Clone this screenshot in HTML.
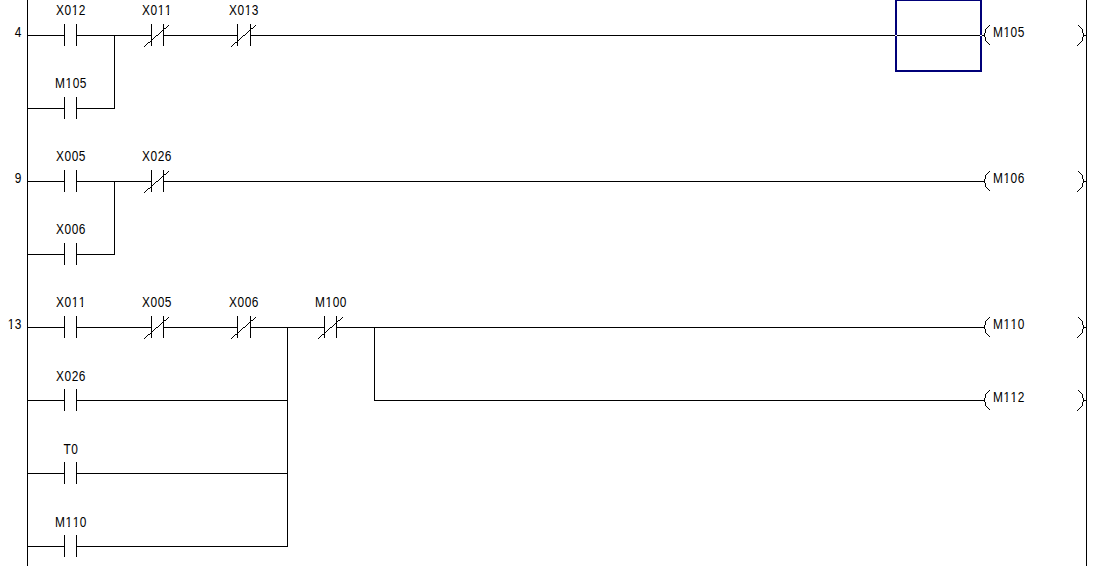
<!DOCTYPE html>
<html><head><meta charset="utf-8"><style>
html,body{margin:0;padding:0;background:#fff;width:1093px;height:566px;overflow:hidden}
#w{position:relative;width:1093px;height:566px;overflow:hidden}
svg{position:absolute;left:0;top:0}
.o{display:inline-block;clip-path:polygon(-3px -3px,11px -3px,11px 11.7px,4.9px 11.7px,4.9px 16px,3.3px 16px,3.3px 11.7px,-3px 11.7px)}
.t{position:absolute;font-family:"Liberation Sans",sans-serif;font-size:14px;line-height:16px;color:#000;white-space:nowrap;letter-spacing:0.6px;transform:scaleX(0.85);}
</style></head><body><div id="w">
<svg width="1093" height="566" viewBox="0 0 1093 566" shape-rendering="crispEdges"><g fill="#000">
<rect x="27" y="0" width="1" height="566"/><rect x="1086" y="0" width="1" height="566"/><rect x="27" y="35" width="38" height="1"/><rect x="64" y="24" width="1" height="22"/><rect x="76" y="24" width="1" height="22"/><rect x="76" y="35" width="76" height="1"/><rect x="151" y="24" width="1" height="22"/><rect x="163" y="24" width="1" height="22"/><rect x="144" y="46" width="1" height="1"/><rect x="145" y="45" width="1" height="1"/><rect x="146" y="44" width="1" height="1"/><rect x="147" y="43" width="1" height="1"/><rect x="148" y="42" width="1" height="1"/><rect x="149" y="42" width="1" height="1"/><rect x="150" y="41" width="1" height="1"/><rect x="151" y="40" width="1" height="1"/><rect x="152" y="39" width="1" height="1"/><rect x="153" y="38" width="1" height="1"/><rect x="154" y="37" width="1" height="1"/><rect x="155" y="36" width="1" height="1"/><rect x="156" y="35" width="1" height="1"/><rect x="157" y="35" width="1" height="1"/><rect x="158" y="34" width="1" height="1"/><rect x="159" y="33" width="1" height="1"/><rect x="160" y="32" width="1" height="1"/><rect x="161" y="31" width="1" height="1"/><rect x="162" y="30" width="1" height="1"/><rect x="163" y="29" width="1" height="1"/><rect x="164" y="28" width="1" height="1"/><rect x="165" y="28" width="1" height="1"/><rect x="166" y="27" width="1" height="1"/><rect x="167" y="26" width="1" height="1"/><rect x="168" y="25" width="1" height="1"/><rect x="163" y="35" width="75" height="1"/><rect x="237" y="24" width="1" height="22"/><rect x="250" y="24" width="1" height="22"/><rect x="231" y="46" width="1" height="1"/><rect x="232" y="45" width="1" height="1"/><rect x="233" y="44" width="1" height="1"/><rect x="234" y="43" width="1" height="1"/><rect x="235" y="42" width="1" height="1"/><rect x="236" y="42" width="1" height="1"/><rect x="237" y="41" width="1" height="1"/><rect x="238" y="40" width="1" height="1"/><rect x="239" y="39" width="1" height="1"/><rect x="240" y="38" width="1" height="1"/><rect x="241" y="37" width="1" height="1"/><rect x="242" y="36" width="1" height="1"/><rect x="243" y="35" width="1" height="1"/><rect x="244" y="35" width="1" height="1"/><rect x="245" y="34" width="1" height="1"/><rect x="246" y="33" width="1" height="1"/><rect x="247" y="32" width="1" height="1"/><rect x="248" y="31" width="1" height="1"/><rect x="249" y="30" width="1" height="1"/><rect x="250" y="29" width="1" height="1"/><rect x="251" y="28" width="1" height="1"/><rect x="252" y="28" width="1" height="1"/><rect x="253" y="27" width="1" height="1"/><rect x="254" y="26" width="1" height="1"/><rect x="255" y="25" width="1" height="1"/><rect x="250" y="35" width="735" height="1"/><rect x="989" y="25" width="1" height="1"/><rect x="988" y="26" width="1" height="1"/><rect x="987" y="27" width="1" height="1"/><rect x="986" y="28" width="1" height="1"/><rect x="985" y="29" width="1" height="4"/><rect x="984" y="33" width="1" height="4"/><rect x="985" y="37" width="1" height="4"/><rect x="986" y="41" width="1" height="1"/><rect x="987" y="42" width="1" height="1"/><rect x="988" y="43" width="1" height="1"/><rect x="989" y="44" width="1" height="1"/><rect x="1078" y="25" width="1" height="1"/><rect x="1079" y="26" width="1" height="1"/><rect x="1080" y="27" width="1" height="1"/><rect x="1081" y="28" width="1" height="1"/><rect x="1082" y="29" width="1" height="4"/><rect x="1083" y="33" width="1" height="4"/><rect x="1082" y="37" width="1" height="4"/><rect x="1081" y="41" width="1" height="1"/><rect x="1080" y="42" width="1" height="1"/><rect x="1079" y="43" width="1" height="1"/><rect x="1078" y="44" width="1" height="1"/><rect x="1077" y="45" width="1" height="1"/><rect x="1083" y="35" width="4" height="1"/><rect x="27" y="108" width="38" height="1"/><rect x="64" y="97" width="1" height="22"/><rect x="76" y="97" width="1" height="22"/><rect x="76" y="108" width="39" height="1"/><rect x="114" y="35" width="1" height="74"/><rect x="27" y="181" width="38" height="1"/><rect x="64" y="170" width="1" height="22"/><rect x="76" y="170" width="1" height="22"/><rect x="76" y="181" width="76" height="1"/><rect x="151" y="170" width="1" height="22"/><rect x="163" y="170" width="1" height="22"/><rect x="144" y="192" width="1" height="1"/><rect x="145" y="191" width="1" height="1"/><rect x="146" y="190" width="1" height="1"/><rect x="147" y="189" width="1" height="1"/><rect x="148" y="188" width="1" height="1"/><rect x="149" y="188" width="1" height="1"/><rect x="150" y="187" width="1" height="1"/><rect x="151" y="186" width="1" height="1"/><rect x="152" y="185" width="1" height="1"/><rect x="153" y="184" width="1" height="1"/><rect x="154" y="183" width="1" height="1"/><rect x="155" y="182" width="1" height="1"/><rect x="156" y="181" width="1" height="1"/><rect x="157" y="181" width="1" height="1"/><rect x="158" y="180" width="1" height="1"/><rect x="159" y="179" width="1" height="1"/><rect x="160" y="178" width="1" height="1"/><rect x="161" y="177" width="1" height="1"/><rect x="162" y="176" width="1" height="1"/><rect x="163" y="175" width="1" height="1"/><rect x="164" y="174" width="1" height="1"/><rect x="165" y="174" width="1" height="1"/><rect x="166" y="173" width="1" height="1"/><rect x="167" y="172" width="1" height="1"/><rect x="168" y="171" width="1" height="1"/><rect x="163" y="181" width="822" height="1"/><rect x="989" y="171" width="1" height="1"/><rect x="988" y="172" width="1" height="1"/><rect x="987" y="173" width="1" height="1"/><rect x="986" y="174" width="1" height="1"/><rect x="985" y="175" width="1" height="4"/><rect x="984" y="179" width="1" height="4"/><rect x="985" y="183" width="1" height="4"/><rect x="986" y="187" width="1" height="1"/><rect x="987" y="188" width="1" height="1"/><rect x="988" y="189" width="1" height="1"/><rect x="989" y="190" width="1" height="1"/><rect x="1078" y="171" width="1" height="1"/><rect x="1079" y="172" width="1" height="1"/><rect x="1080" y="173" width="1" height="1"/><rect x="1081" y="174" width="1" height="1"/><rect x="1082" y="175" width="1" height="4"/><rect x="1083" y="179" width="1" height="4"/><rect x="1082" y="183" width="1" height="4"/><rect x="1081" y="187" width="1" height="1"/><rect x="1080" y="188" width="1" height="1"/><rect x="1079" y="189" width="1" height="1"/><rect x="1078" y="190" width="1" height="1"/><rect x="1077" y="191" width="1" height="1"/><rect x="1083" y="181" width="4" height="1"/><rect x="27" y="254" width="38" height="1"/><rect x="64" y="243" width="1" height="22"/><rect x="76" y="243" width="1" height="22"/><rect x="76" y="254" width="39" height="1"/><rect x="114" y="181" width="1" height="74"/><rect x="27" y="327" width="38" height="1"/><rect x="64" y="316" width="1" height="22"/><rect x="76" y="316" width="1" height="22"/><rect x="76" y="327" width="76" height="1"/><rect x="151" y="316" width="1" height="22"/><rect x="163" y="316" width="1" height="22"/><rect x="144" y="338" width="1" height="1"/><rect x="145" y="337" width="1" height="1"/><rect x="146" y="336" width="1" height="1"/><rect x="147" y="335" width="1" height="1"/><rect x="148" y="334" width="1" height="1"/><rect x="149" y="334" width="1" height="1"/><rect x="150" y="333" width="1" height="1"/><rect x="151" y="332" width="1" height="1"/><rect x="152" y="331" width="1" height="1"/><rect x="153" y="330" width="1" height="1"/><rect x="154" y="329" width="1" height="1"/><rect x="155" y="328" width="1" height="1"/><rect x="156" y="327" width="1" height="1"/><rect x="157" y="327" width="1" height="1"/><rect x="158" y="326" width="1" height="1"/><rect x="159" y="325" width="1" height="1"/><rect x="160" y="324" width="1" height="1"/><rect x="161" y="323" width="1" height="1"/><rect x="162" y="322" width="1" height="1"/><rect x="163" y="321" width="1" height="1"/><rect x="164" y="320" width="1" height="1"/><rect x="165" y="320" width="1" height="1"/><rect x="166" y="319" width="1" height="1"/><rect x="167" y="318" width="1" height="1"/><rect x="168" y="317" width="1" height="1"/><rect x="163" y="327" width="75" height="1"/><rect x="237" y="316" width="1" height="22"/><rect x="250" y="316" width="1" height="22"/><rect x="231" y="338" width="1" height="1"/><rect x="232" y="337" width="1" height="1"/><rect x="233" y="336" width="1" height="1"/><rect x="234" y="335" width="1" height="1"/><rect x="235" y="334" width="1" height="1"/><rect x="236" y="334" width="1" height="1"/><rect x="237" y="333" width="1" height="1"/><rect x="238" y="332" width="1" height="1"/><rect x="239" y="331" width="1" height="1"/><rect x="240" y="330" width="1" height="1"/><rect x="241" y="329" width="1" height="1"/><rect x="242" y="328" width="1" height="1"/><rect x="243" y="327" width="1" height="1"/><rect x="244" y="327" width="1" height="1"/><rect x="245" y="326" width="1" height="1"/><rect x="246" y="325" width="1" height="1"/><rect x="247" y="324" width="1" height="1"/><rect x="248" y="323" width="1" height="1"/><rect x="249" y="322" width="1" height="1"/><rect x="250" y="321" width="1" height="1"/><rect x="251" y="320" width="1" height="1"/><rect x="252" y="320" width="1" height="1"/><rect x="253" y="319" width="1" height="1"/><rect x="254" y="318" width="1" height="1"/><rect x="255" y="317" width="1" height="1"/><rect x="250" y="327" width="75" height="1"/><rect x="324" y="316" width="1" height="22"/><rect x="336" y="316" width="1" height="22"/><rect x="318" y="338" width="1" height="1"/><rect x="319" y="337" width="1" height="1"/><rect x="320" y="336" width="1" height="1"/><rect x="321" y="335" width="1" height="1"/><rect x="322" y="334" width="1" height="1"/><rect x="323" y="334" width="1" height="1"/><rect x="324" y="333" width="1" height="1"/><rect x="325" y="332" width="1" height="1"/><rect x="326" y="331" width="1" height="1"/><rect x="327" y="330" width="1" height="1"/><rect x="328" y="329" width="1" height="1"/><rect x="329" y="328" width="1" height="1"/><rect x="330" y="327" width="1" height="1"/><rect x="331" y="327" width="1" height="1"/><rect x="332" y="326" width="1" height="1"/><rect x="333" y="325" width="1" height="1"/><rect x="334" y="324" width="1" height="1"/><rect x="335" y="323" width="1" height="1"/><rect x="336" y="322" width="1" height="1"/><rect x="337" y="321" width="1" height="1"/><rect x="338" y="320" width="1" height="1"/><rect x="339" y="320" width="1" height="1"/><rect x="340" y="319" width="1" height="1"/><rect x="341" y="318" width="1" height="1"/><rect x="342" y="317" width="1" height="1"/><rect x="336" y="327" width="649" height="1"/><rect x="989" y="317" width="1" height="1"/><rect x="988" y="318" width="1" height="1"/><rect x="987" y="319" width="1" height="1"/><rect x="986" y="320" width="1" height="1"/><rect x="985" y="321" width="1" height="4"/><rect x="984" y="325" width="1" height="4"/><rect x="985" y="329" width="1" height="4"/><rect x="986" y="333" width="1" height="1"/><rect x="987" y="334" width="1" height="1"/><rect x="988" y="335" width="1" height="1"/><rect x="989" y="336" width="1" height="1"/><rect x="1078" y="317" width="1" height="1"/><rect x="1079" y="318" width="1" height="1"/><rect x="1080" y="319" width="1" height="1"/><rect x="1081" y="320" width="1" height="1"/><rect x="1082" y="321" width="1" height="4"/><rect x="1083" y="325" width="1" height="4"/><rect x="1082" y="329" width="1" height="4"/><rect x="1081" y="333" width="1" height="1"/><rect x="1080" y="334" width="1" height="1"/><rect x="1079" y="335" width="1" height="1"/><rect x="1078" y="336" width="1" height="1"/><rect x="1077" y="337" width="1" height="1"/><rect x="1083" y="327" width="4" height="1"/><rect x="287" y="327" width="1" height="220"/><rect x="374" y="327" width="1" height="74"/><rect x="374" y="400" width="611" height="1"/><rect x="989" y="390" width="1" height="1"/><rect x="988" y="391" width="1" height="1"/><rect x="987" y="392" width="1" height="1"/><rect x="986" y="393" width="1" height="1"/><rect x="985" y="394" width="1" height="4"/><rect x="984" y="398" width="1" height="4"/><rect x="985" y="402" width="1" height="4"/><rect x="986" y="406" width="1" height="1"/><rect x="987" y="407" width="1" height="1"/><rect x="988" y="408" width="1" height="1"/><rect x="989" y="409" width="1" height="1"/><rect x="1078" y="390" width="1" height="1"/><rect x="1079" y="391" width="1" height="1"/><rect x="1080" y="392" width="1" height="1"/><rect x="1081" y="393" width="1" height="1"/><rect x="1082" y="394" width="1" height="4"/><rect x="1083" y="398" width="1" height="4"/><rect x="1082" y="402" width="1" height="4"/><rect x="1081" y="406" width="1" height="1"/><rect x="1080" y="407" width="1" height="1"/><rect x="1079" y="408" width="1" height="1"/><rect x="1078" y="409" width="1" height="1"/><rect x="1077" y="410" width="1" height="1"/><rect x="1083" y="400" width="4" height="1"/><rect x="27" y="400" width="38" height="1"/><rect x="64" y="389" width="1" height="22"/><rect x="76" y="389" width="1" height="22"/><rect x="76" y="400" width="212" height="1"/><rect x="27" y="473" width="38" height="1"/><rect x="64" y="462" width="1" height="22"/><rect x="76" y="462" width="1" height="22"/><rect x="76" y="473" width="212" height="1"/><rect x="27" y="546" width="38" height="1"/><rect x="64" y="535" width="1" height="22"/><rect x="76" y="535" width="1" height="22"/><rect x="76" y="546" width="212" height="1"/>
</g><rect x="896" y="0" width="85" height="71" fill="none" stroke="#000078" stroke-width="2"/><rect x="895" y="35" width="2" height="1" fill="#f4f4ff"/><rect x="980" y="35" width="2" height="1" fill="#f4f4ff"/></svg>
<div class="t" style="left:20.5px;top:2px;width:100px;text-align:center">X0<span class="o">1</span>2</div><div class="t" style="left:107.0px;top:2px;width:100px;text-align:center">X0<span class="o">1</span><span class="o">1</span></div><div class="t" style="left:193.6px;top:2px;width:100px;text-align:center">X0<span class="o">1</span>3</div><div class="t" style="left:993px;top:24px;transform-origin:0 0">M<span class="o">1</span>05</div><div class="t" style="left:-78.5px;top:24px;width:100px;text-align:right;transform-origin:100% 0">4</div><div class="t" style="left:20.5px;top:75px;width:100px;text-align:center">M<span class="o">1</span>05</div><div class="t" style="left:20.5px;top:148px;width:100px;text-align:center">X005</div><div class="t" style="left:107.0px;top:148px;width:100px;text-align:center">X026</div><div class="t" style="left:993px;top:170px;transform-origin:0 0">M<span class="o">1</span>06</div><div class="t" style="left:-78.5px;top:170px;width:100px;text-align:right;transform-origin:100% 0">9</div><div class="t" style="left:20.5px;top:221px;width:100px;text-align:center">X006</div><div class="t" style="left:20.5px;top:294px;width:100px;text-align:center">X0<span class="o">1</span><span class="o">1</span></div><div class="t" style="left:107.0px;top:294px;width:100px;text-align:center">X005</div><div class="t" style="left:193.6px;top:294px;width:100px;text-align:center">X006</div><div class="t" style="left:280.5px;top:294px;width:100px;text-align:center">M<span class="o">1</span>00</div><div class="t" style="left:993px;top:316px;transform-origin:0 0">M<span class="o">1</span><span class="o">1</span>0</div><div class="t" style="left:-78.5px;top:316px;width:100px;text-align:right;transform-origin:100% 0"><span class="o">1</span>3</div><div class="t" style="left:993px;top:389px;transform-origin:0 0">M<span class="o">1</span><span class="o">1</span>2</div><div class="t" style="left:20.5px;top:368px;width:100px;text-align:center">X026</div><div class="t" style="left:20.5px;top:441px;width:100px;text-align:center">T0</div><div class="t" style="left:20.5px;top:514px;width:100px;text-align:center">M<span class="o">1</span><span class="o">1</span>0</div>
</div></body></html>
